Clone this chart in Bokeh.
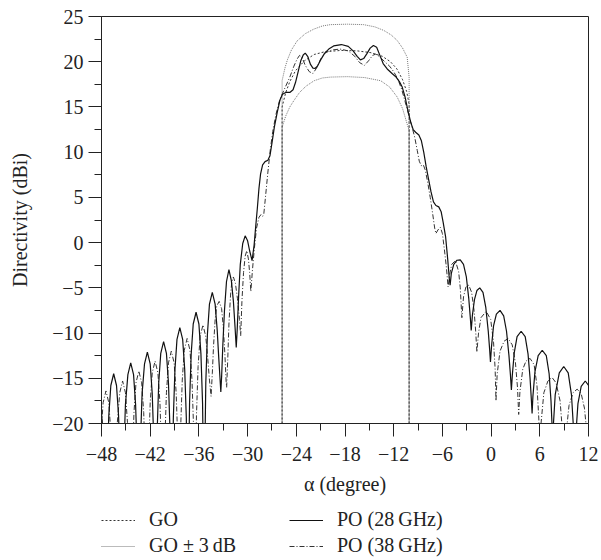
from bokeh.plotting import figure
from bokeh.layouts import column
from bokeh.models import FixedTicker, Legend, LegendItem, Range1d
from bokeh.embed import file_html
from bokeh.resources import INLINE

# ---------------- data ----------------
x_ticks = [-48, -42, -36, -30, -24, -18, -12, -6, 0, 6, 12]
x_minor = [-45, -39, -33, -27, -21, -15, -9, -3, 3, 9]
x_tick_labels = ["\u221248", "\u221242", "\u221236", "\u221230", "\u221224", "\u221218",
                 "\u221212", "\u22126", "0", "6", "12"]
y_ticks = [-20, -15, -10, -5, 0, 5, 10, 15, 20, 25]
y_minor = [-17.5, -12.5, -7.5, -2.5, 2.5, 7.5, 12.5, 17.5, 22.5]
y_tick_labels = ["\u221220", "\u221215", "\u221210", "\u22125", "0", "5", "10", "15", "20", "25"]

# GO directivity (with its vertical edges)
go_x = [-25.75, -25.75, -25.3, -24.8, -24.1, -23.0, -21.8, -20.5, -18.5, -16.5, -14.8, -13.4,
        -12.4, -11.6, -10.9, -10.4, -10.1, -10.1]
go_y = [-20, 15.0, 16.6, 17.8, 19.0, 20.1, 20.8, 21.1, 21.25, 21.2, 21.0, 20.6,
        20.0, 19.2, 18.0, 16.7, 15.3, -20]
# GO + 3 dB (outer arch)
go_hi_x = [-25.75, -25.75, -25.4, -25.1, -24.6, -23.9, -22.9, -21.85, -20.8, -19.8, -17.7, -15.7,
           -14.3, -13.2, -12.3, -11.57, -10.9, -10.34, -10.1, -10.1]
go_hi_y = [-20, 17.9, 19.3, 20.2, 21.3, 22.3, 23.1, 23.6, 23.95, 24.1, 24.15, 24.1,
           23.85, 23.45, 22.95, 22.35, 21.5, 20.5, 18.3, -20]
# GO - 3 dB (inner arch)
go_lo_x = [-25.75, -25.75, -25.3, -24.8, -24.3, -23.6, -22.8, -21.8, -20.8, -19.8, -17.7, -15.6,
           -13.6, -12.5, -11.57, -10.9, -10.34, -10.1, -10.1]
go_lo_y = [-20, 12.75, 14.0, 15.0, 15.7, 16.6, 17.3, 17.9, 18.2, 18.3, 18.35, 18.25,
           17.9, 17.2, 16.1, 14.8, 13.1, 12.4, -20]

# PO 28 GHz (solid)
po28_left = [
    (-48.6, -15.6), (-48.2, -16.8), (-47.85, -20.5), (-47.7, -25.0), (-47.5, -40.0),
    (-47.42, -32.5), (-47.3, -24.5), (-47.1, -19.1), (-46.85, -15.8), (-46.5, -14.5), (-46.15, -15.8), (-45.9, -19.1), (-45.7, -24.5), (-45.57, -32.5), (-45.45, -40.0),
    (-45.37, -31.3), (-45.25, -23.3), (-45.05, -17.9), (-44.75, -14.6), (-44.4, -13.3), (-44.05, -14.6), (-43.8, -17.9), (-43.6, -23.3), (-43.48, -31.3), (-43.4, -40.0),
    (-43.32, -30.1), (-43.2, -22.1), (-43.0, -16.7), (-42.7, -13.4), (-42.35, -12.1), (-42.0, -13.4), (-41.75, -16.7), (-41.55, -22.1), (-41.43, -30.1), (-41.35, -40.0),
    (-41.27, -29.0), (-41.15, -21.0), (-40.95, -15.5), (-40.7, -12.25), (-40.35, -10.95), (-40.0, -12.25), (-39.75, -15.5), (-39.55, -21.0), (-39.43, -29.0), (-39.35, -40.0),
    (-39.27, -27.4), (-39.15, -19.4), (-38.95, -14.0), (-38.7, -10.7), (-38.35, -9.4), (-38.0, -10.7), (-37.75, -14.0), (-37.55, -19.4), (-37.43, -27.4), (-37.35, -38.0),
    (-37.27, -25.7), (-37.15, -17.7), (-36.95, -12.3), (-36.7, -9.0), (-36.35, -7.7), (-36.0, -9.0), (-35.75, -12.3), (-35.55, -17.7), (-35.43, -25.7), (-35.35, -32.0),
    (-35.27, -23.5), (-35.15, -15.5), (-34.95, -10.1), (-34.7, -6.8), (-34.35, -5.5), (-34.0, -6.8), (-33.75, -9.6), (-33.55, -12.8), (-33.4, -15.0), (-33.3, -16.5),
    (-33.2, -14.8), (-33.05, -11.3), (-32.85, -7.5), (-32.6, -4.3), (-32.3, -3.0), (-32.0, -4.2), (-31.75, -6.5), (-31.55, -9.3), (-31.4, -11.6),
    (-31.28, -9.6), (-31.1, -5.8), (-30.9, -2.4), (-30.6, -0.1), (-30.3, 0.75), (-30.0, 0.2), (-29.75, -0.9), (-29.45, -2.0),
]
po28_main = [
    (-29.2, -0.3), (-29.0, 1.8), (-28.8, 3.8), (-28.6, 6.0), (-28.4, 7.6), (-28.15, 8.6), (-27.85, 8.95), (-27.5, 9.1),
    (-27.25, 9.6), (-27.0, 11.0), (-26.7, 12.8), (-26.35, 14.4), (-26.0, 15.8), (-25.7, 16.4), (-25.3, 16.6), (-24.8, 16.6),
    (-24.4, 16.9), (-24.1, 17.7), (-23.8, 18.8), (-23.45, 20.1), (-23.15, 20.75), (-22.9, 20.95), (-22.6, 20.6), (-22.25, 19.7),
    (-21.95, 19.3), (-21.7, 19.25), (-21.4, 19.5), (-21.0, 20.2), (-20.5, 20.95), (-20.0, 21.4), (-19.4, 21.75), (-18.45, 21.9),
    (-17.6, 21.7), (-17.0, 21.2), (-16.5, 20.6), (-16.1, 20.2), (-15.7, 20.35), (-15.3, 20.9), (-14.9, 21.5), (-14.5, 21.8),
    (-14.1, 21.6), (-13.7, 20.7), (-13.3, 19.8), (-12.8, 19.2), (-12.2, 18.7), (-11.7, 18.3), (-11.3, 17.8), (-10.95, 17.2),
    (-10.6, 16.1), (-10.25, 14.6), (-9.9, 13.3), (-9.6, 12.5), (-9.3, 12.2), (-8.9, 11.9), (-8.6, 11.3), (-8.3, 10.0),
    (-8.0, 8.4), (-7.7, 7.0), (-7.4, 5.6), (-7.1, 4.5), (-6.8, 4.1), (-6.45, 3.95), (-6.15, 3.4), (-5.9, 2.2),
    (-5.6, 0.6), (-5.35, -1.8), (-5.15, -4.0), (-5.05, -4.7),
]
po28_right = [
    (-4.9, -3.4), (-4.6, -2.4), (-4.2, -1.95), (-3.8, -1.9), (-3.4, -2.4), (-3.05, -3.8), (-2.75, -6.2), (-2.55, -8.4), (-2.45, -9.7),
    (-2.3, -8.0), (-2.05, -6.3), (-1.75, -5.3), (-1.4, -5.0), (-1.0, -5.5), (-0.65, -7.2), (-0.35, -9.8), (-0.18, -11.8), (-0.08, -13.2),
    (0.05, -11.5), (0.3, -9.2), (0.65, -7.9), (1.1, -7.5), (1.55, -8.1), (1.9, -9.8), (2.2, -12.5), (2.38, -14.6), (2.5, -16.3),
    (2.62, -14.6), (2.85, -12.2), (3.2, -10.4), (3.7, -9.8), (4.2, -10.4), (4.55, -12.3), (4.8, -15.0), (4.95, -17.2), (5.05, -18.9),
    (5.15, -17.0), (5.4, -14.3), (5.8, -12.5), (6.3, -11.9), (6.8, -12.5), (7.15, -14.5), (7.38, -17.5), (7.5, -20.0), (7.55, -23.0),
    (7.65, -20.5), (7.9, -16.8), (8.4, -14.4), (8.95, -13.7), (9.5, -14.4), (9.9, -16.8), (10.15, -20.5), (10.3, -27.0),
    (10.42, -21.5), (10.7, -17.8), (11.1, -15.9), (11.6, -15.3), (12.1, -15.9), (12.4, -17.2),
]

# PO 38 GHz (dash-dot)
po38_left = [
    (-48.45, -40.0), (-48.37, -34.4), (-48.25, -26.4), (-48.05, -21.0), (-47.8, -17.7), (-47.45, -16.4), (-47.1, -17.7), (-46.85, -21.0), (-46.65, -26.4), (-46.53, -34.4), (-46.45, -40.0),
    (-46.37, -33.3), (-46.25, -25.3), (-46.05, -19.9), (-45.75, -16.6), (-45.4, -15.3), (-45.05, -16.6), (-44.8, -19.9), (-44.6, -25.3), (-44.48, -33.3), (-44.4, -40.0),
    (-44.32, -32.2), (-44.2, -24.2), (-44.0, -18.8), (-43.75, -15.5), (-43.4, -14.2), (-43.05, -15.5), (-42.8, -18.8), (-42.6, -24.2), (-42.48, -32.2), (-42.4, -40.0),
    (-42.32, -31.1), (-42.2, -23.1), (-42.0, -17.7), (-41.75, -14.4), (-41.4, -13.1), (-41.05, -14.4), (-40.8, -17.7), (-40.6, -23.1), (-40.48, -31.1), (-40.4, -40.0),
    (-40.32, -30.0), (-40.2, -22.0), (-40.0, -16.6), (-39.75, -13.3), (-39.4, -12.0), (-39.05, -13.3), (-38.8, -16.6), (-38.6, -22.0), (-38.5, -30.0), (-38.45, -40.0),
    (-38.37, -28.6), (-38.25, -20.6), (-38.05, -15.2), (-37.8, -11.9), (-37.45, -10.6), (-37.1, -11.9), (-36.85, -15.2), (-36.65, -20.6), (-36.55, -26.6), (-36.5, -32.0),
    (-36.42, -25.5), (-36.3, -19.1), (-36.1, -13.7), (-35.85, -10.4), (-35.5, -9.1), (-35.15, -10.4), (-34.9, -12.9), (-34.7, -15.2), (-34.5, -17.0),
    (-34.35, -14.5), (-34.2, -11.5), (-34.0, -8.5), (-33.8, -7.0), (-33.5, -6.5), (-33.2, -7.3), (-33.0, -9.3), (-32.8, -12.3), (-32.65, -15.3), (-32.58, -16.0),
    (-32.45, -13.0), (-32.3, -9.0), (-32.1, -5.8), (-31.95, -4.4), (-31.75, -3.8), (-31.5, -4.5), (-31.25, -6.2), (-31.0, -8.5), (-30.85, -10.3),
    (-30.7, -6.5), (-30.5, -3.3), (-30.3, -1.5), (-30.1, -0.9), (-29.9, -1.8), (-29.75, -3.3), (-29.6, -5.4),
]
po38_main = [
    (-29.4, -3.0), (-29.15, -0.5), (-28.9, 1.6), (-28.6, 2.8), (-28.35, 3.1), (-28.15, 2.9), (-28.0, 3.2), (-27.8, 5.0),
    (-27.5, 7.8), (-27.2, 10.3), (-26.9, 12.3), (-26.5, 14.2), (-26.1, 15.6), (-25.7, 16.5), (-25.3, 17.3), (-24.8, 18.3),
    (-24.3, 19.5), (-23.9, 20.3), (-23.6, 20.7), (-23.3, 20.5), (-22.9, 19.6), (-22.4, 18.9), (-21.95, 18.7), (-21.5, 19.3),
    (-21.0, 20.3), (-20.4, 21.0), (-19.6, 21.3), (-18.6, 21.4), (-17.6, 21.2), (-16.8, 20.6), (-16.2, 19.9), (-15.6, 19.6),
    (-15.1, 20.1), (-14.6, 20.7), (-14.2, 20.85), (-13.7, 20.5), (-13.1, 20.0), (-12.5, 19.5), (-12.0, 18.9), (-11.5, 18.1),
    (-11.0, 16.9), (-10.6, 15.6), (-10.2, 14.3), (-9.8, 13.0), (-9.4, 11.6), (-9.1, 10.2), (-8.85, 9.0), (-8.6, 8.5),
    (-8.35, 8.6), (-8.1, 8.0), (-7.8, 6.6), (-7.5, 5.0), (-7.2, 3.2), (-6.95, 1.6), (-6.8, 1.0), (-6.55, 1.4),
    (-6.25, 1.7), (-6.0, 1.0), (-5.75, -0.8), (-5.5, -2.8), (-5.3, -4.9),
]
po38_right = [
    (-5.1, -3.5), (-4.85, -2.4), (-4.4, -2.0), (-4.0, -3.2), (-3.8, -5.0), (-3.6, -8.3),
    (-3.4, -6.0), (-3.1, -4.9), (-2.75, -4.7), (-2.4, -5.5), (-2.1, -7.5), (-1.9, -9.8), (-1.75, -12.1),
    (-1.55, -10.0), (-1.25, -8.3), (-0.6, -7.6), (-0.05, -8.5), (0.3, -11.0), (0.5, -14.0), (0.6, -17.5),
    (0.75, -14.5), (1.1, -12.0), (1.6, -10.9), (2.1, -10.6), (2.6, -11.3), (3.0, -13.3), (3.25, -16.0), (3.4, -19.0),
    (3.55, -16.5), (3.9, -14.0), (4.3, -13.1), (4.8, -12.8), (5.3, -13.5), (5.65, -15.8), (5.88, -19.5), (6.0, -24.0),
    (6.15, -20.0), (6.5, -16.6), (7.0, -15.3), (7.5, -14.9), (8.0, -15.5), (8.5, -17.5), (8.8, -21.0), (9.0, -26.0),
    (9.2, -21.5), (9.6, -18.0), (10.1, -16.6), (10.6, -16.2), (11.1, -16.7), (11.5, -18.3), (11.85, -21.5), (12.0, -27.0),
]

legend_labels = ["GO", "GO \u00b1 3\u2009dB", "PO (28\u2009GHz)", "PO (38\u2009GHz)"]

# ---------------- styles ----------------
SERIF = "Liberation Serif"
STY_HI = dict(line_color="#777777", line_width=1, line_dash="1 1")
STY_GO = dict(line_color="#333333", line_width=1, line_dash="2 2")
STY_38 = dict(line_color="#333333", line_width=1, line_dash="5 2 1 2")
STY_28 = dict(line_color="#111111", line_width=1.2)

po28_x = [a for a, b in po28_left + po28_main + po28_right]
po28_y = [b for a, b in po28_left + po28_main + po28_right]
po38_x = [a for a, b in po38_left + po38_main + po38_right]
po38_y = [b for a, b in po38_left + po38_main + po38_right]

# ---------------- main figure ----------------
p = figure(frame_width=487, frame_height=407,
           min_border_left=101, min_border_right=12, min_border_top=16, min_border_bottom=80,
           x_range=Range1d(-48, 12), y_range=Range1d(-20, 25),
           output_backend="svg", toolbar_location=None)
p.background_fill_color = "white"
p.border_fill_color = "white"
p.grid.visible = False
p.outline_line_color = "#222222"
p.outline_line_width = 1

p.xaxis.ticker = FixedTicker(ticks=x_ticks, minor_ticks=x_minor)
p.yaxis.ticker = FixedTicker(ticks=y_ticks, minor_ticks=y_minor)
p.xaxis.major_label_overrides = dict(zip(x_ticks, x_tick_labels))
p.yaxis.major_label_overrides = dict(zip(y_ticks, y_tick_labels))

for ax in (p.xaxis[0], p.yaxis[0]):
    ax.axis_line_color = "#222222"
    ax.major_tick_line_color = "#222222"
    ax.minor_tick_line_color = "#222222"
    ax.major_tick_in = 0
    ax.major_tick_out = 13
    ax.minor_tick_in = 0
    ax.minor_tick_out = 7
    ax.major_label_text_font = SERIF
    ax.major_label_text_font_size = "20px"
    ax.major_label_text_color = "#222222"
    ax.axis_label_text_font = SERIF
    ax.axis_label_text_font_size = "20px"
    ax.axis_label_text_font_style = "normal"
    ax.axis_label_text_color = "#222222"

p.xaxis.axis_label = "\u03b1 (degree)"
p.yaxis.axis_label = "Directivity (dBi)"
p.xaxis.major_label_standoff = 10
p.yaxis.major_label_standoff = 5
p.xaxis.axis_label_standoff = 9
p.yaxis.axis_label_standoff = 18

p.line(go_hi_x, go_hi_y, **STY_HI)
p.line(go_lo_x, go_lo_y, **STY_HI)
p.line(go_x, go_y, **STY_GO)
p.line(po38_x, po38_y, **STY_38)
p.line(po28_x, po28_y, **STY_28)

# ---------------- legend strip (below the plot) ----------------
# The same series are drawn here, but outside this strip's visible range,
# so only the legend keys show.
q = figure(width=600, height=55, min_border=0, x_axis_type=None, y_axis_type=None,
           x_range=Range1d(1000, 1001), y_range=Range1d(1000, 1001),
           output_backend="svg", toolbar_location=None)
q.grid.visible = False
q.outline_line_color = None
q.background_fill_color = "white"
q.border_fill_color = "white"
k_go = q.line(go_x, go_y, **STY_GO)
k_hi = q.line(go_hi_x, go_hi_y, **STY_HI)
k_28 = q.line(po28_x, po28_y, **STY_28)
k_38 = q.line(po38_x, po38_y, **STY_38)

legend = Legend(items=[LegendItem(label=t, renderers=[r])
                       for t, r in zip(legend_labels, [k_go, k_hi, k_28, k_38])],
                ncols=2, location=(0, 1))
legend.border_line_color = None
legend.background_fill_alpha = 0
legend.label_text_font = SERIF
legend.label_text_font_size = "20px"
legend.label_text_color = "#222222"
legend.glyph_width = 34
legend.glyph_height = 20
legend.label_height = 20
legend.label_standoff = 14
legend.label_width = 137
legend.spacing = 3
legend.padding = 0
legend.margin = 0
q.add_layout(legend, "center")

layout = column(p, q, spacing=0)
open("out.html", "w").write(file_html(layout, INLINE))
